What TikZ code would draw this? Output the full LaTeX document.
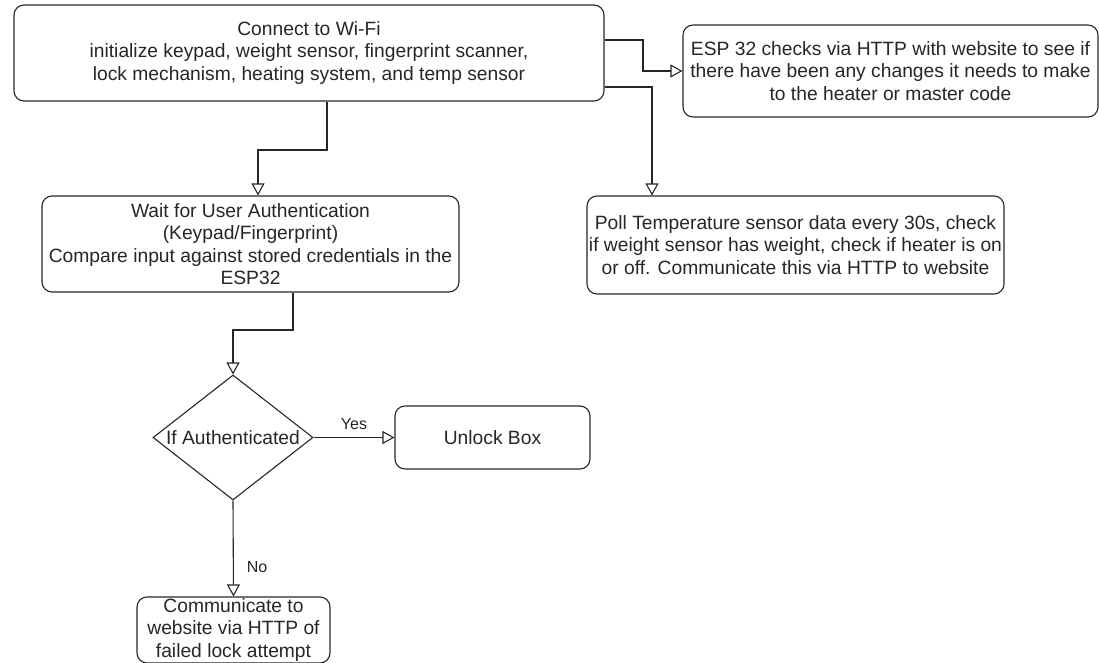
\documentclass[tikz,border=0pt]{standalone}
\usepackage{fontspec}
\setmainfont{Liberation Sans}
\usetikzlibrary{shapes.geometric,arrows.meta}
\begin{document}
\begin{tikzpicture}[x=1pt,y=-1pt,
  box/.style={draw=black!85, text=black!85, rounded corners=10pt, line width=1.1pt, align=center, inner sep=0pt,
    font=\fontsize{19.25}{22.3}\selectfont},
  dec/.style={draw=black!85, diamond, line width=1.1pt, inner sep=0pt},
  flow/.style={draw=black!85, line width=1.1pt, -{Triangle[open,length=12pt,width=13pt]}},
  lbl/.style={text=black!85, font=\fontsize{16}{19}\selectfont, inner sep=1pt}]
\useasboundingbox (0,0) rectangle (1099,663);

\node[box, minimum width=590pt, minimum height=96pt] (top) at (309,53)
  {Connect to Wi-Fi\\initialize keypad, weight sensor, fingerprint scanner,\\lock mechanism, heating system, and temp sensor};
\node[box, minimum width=415pt, minimum height=92pt] (b2) at (890.5,71)
  {ESP 32 checks via HTTP with website to see if\\there have been any changes it needs to make\\to the heater or master code};
\node[box, minimum width=417pt, minimum height=96pt] (b3) at (250.5,244)
  {Wait for User Authentication\\(Keypad/Fingerprint)\\Compare input against stored credentials in the\\ESP32};
\node[box, minimum width=417pt, minimum height=98pt] (b4) at (795.5,245)
  {Poll Temperature sensor data every 30s, check\\if weight sensor has weight, check if heater is on\\or off. Communicate this via HTTP to website};
\node[dec, minimum width=160pt, minimum height=125pt,
  label={[text=black!85, font=\fontsize{19.25}{22}\selectfont]center:If Authenticated}] (dec) at (233,437.5) {};
\node[box, minimum width=195pt, minimum height=63pt] (unl) at (492.5,437.5) {Unlock Box};
\node[box, minimum width=193pt, minimum height=66pt] (b5) at (233.5,630)
  {Communicate to\\website via HTTP of\\failed lock attempt};

\draw[flow] (327,0 |- top.south) -- (327,150) -- (258,150) -- (258,0 |- b3.north);
\draw[flow] (top.east |- 0,40) -- (643,40) -- (643,0 |- b2.west) -- (b2.west);
\draw[flow] (top.east |- 0,87) -- (652,87) -- (652,0 |- b4.north);
\draw[flow] (293,0 |- b3.south) -- (293,330) -- (233,330) -- (dec.north);
\draw[flow] (dec.east) -- (unl.west) node[lbl, midway, above=6pt] {Yes};
\draw[flow] (dec.south) -- (b5.north) node[lbl, pos=0.69, right=12pt] {No};
\end{tikzpicture}
\end{document}
